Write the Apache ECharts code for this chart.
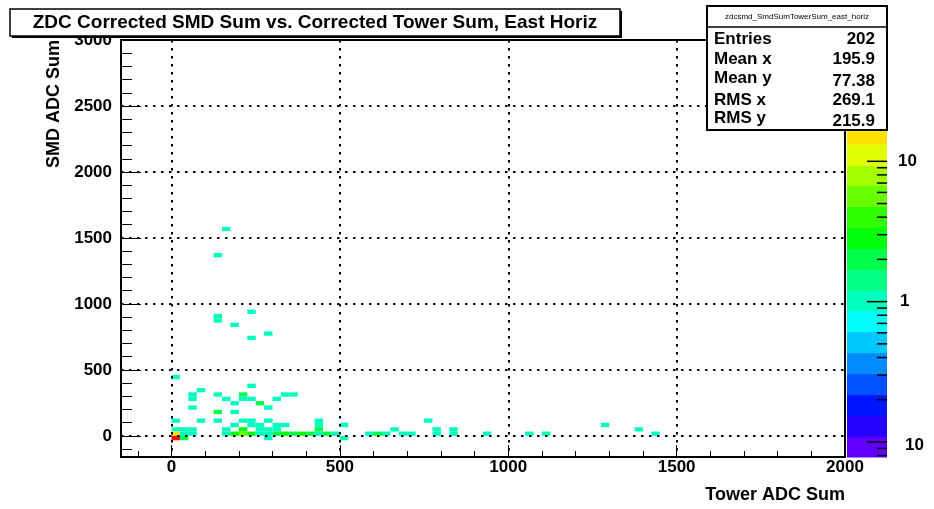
<!DOCTYPE html>
<html><head><meta charset="utf-8">
<script src="https://cdn.jsdelivr.net/npm/echarts@6/dist/echarts.min.js"></script>
<style>html,body{margin:0;padding:0;background:#fff}#c{width:934px;height:509px}</style>
</head><body><div id="c"></div>
<script>
// ---- histogram bins (bin centres, counts) ----
const binX = [
  162.5,137.5,237.5,137.5,137.5,187.5,287.5,237.5,12.5,237.5,87.5,
  62.5,137.5,212.5,337.5,362.5,
  62.5,162.5,212.5,237.5,312.5,
  187.5,262.5,
  62.5,287.5,
  137.5,187.5,
  12.5,87.5,137.5,212.5,237.5,287.5,437.5,762.5,
  187.5,237.5,262.5,312.5,337.5,437.5,512.5,1287.5,
  12.5,37.5,62.5,162.5,212.5,262.5,287.5,312.5,437.5,662.5,787.5,837.5,1387.5,
  12.5,37.5,62.5,162.5,187.5,212.5,237.5,262.5,287.5,312.5,337.5,362.5,387.5,412.5,437.5,462.5,487.5,587.5,612.5,637.5,687.5,712.5,787.5,837.5,937.5,1062.5,1112.5,1437.5,
  12.5,37.5,287.5,512.5
];
const binY = [
  1567.5,1369.5,940.5,907.5,874.5,841.5,775.5,742.5,445.5,379.5,346.5,
  313.5,313.5,313.5,313.5,313.5,
  280.5,280.5,280.5,280.5,280.5,
  247.5,247.5,
  214.5,214.5,
  181.5,181.5,
  115.5,115.5,115.5,115.5,115.5,115.5,115.5,115.5,
  82.5,82.5,82.5,82.5,82.5,82.5,82.5,82.5,
  49.5,49.5,49.5,49.5,49.5,49.5,49.5,49.5,49.5,49.5,49.5,49.5,49.5,
  16.5,16.5,16.5,16.5,16.5,16.5,16.5,16.5,16.5,16.5,16.5,16.5,16.5,16.5,16.5,16.5,16.5,16.5,16.5,16.5,16.5,16.5,16.5,16.5,16.5,16.5,16.5,16.5,
  -16.5,-16.5,-16.5,-16.5
];
const binCount = [
  1,1,1,1,1,1,1,1,1,1,1,
  1,1,2,1,1,
  1,1,1,1,1,
  1,2,
  1,1,
  2,1,
  1,1,1,1,1,1,1,1,
  1,1,1,1,1,1,1,1,
  1,1,1,1,3,1,1,1,2,1,1,1,1,
  14,1,1,1,3,5,3,1,1,2,3,2,3,2,1,2,1,1,2,1,1,1,1,1,1,1,1,1,
  16,2,1,1
];

// ---- axes ----
const xTicks = [0, 500, 1000, 1500, 2000];
const yTicks = [0, 500, 1000, 1500, 2000, 2500, 3000];
const xMinorTicks = [-100,0,100,200,300,400,500,600,700,800,900,1000,1100,1200,1300,1400,1500,1600,1700,1800,1900,2000];
const yMinorTicks = [-100,0,100,200,300,400,500,600,700,800,900,1000,1100,1200,1300,1400,1500,1600,1700,1800,1900,2000,2100,2200,2300,2400,2500,2600,2700,2800,2900,3000];

// ---- colour palette (log10 band edges, bottom to top) ----
const zBandEdges = [-1.107,-0.961,-0.812,-0.663,-0.514,-0.364,-0.214,-0.064,0.082,0.229,0.379,0.529,0.679,0.829,0.971,1.121,1.216];
const zBandColors = ['#6200FF','#2600FF','#0015FF','#0051FF','#008CFF','#00C8FF','#00FFFB','#00FFBF','#00FF84','#00FF48','#00FF0D','#2FFF00','#6AFF00','#A6FF00','#E1FF00','#FFE100'];
const overflowColor = '#FF0000';
const zTickMajor = [0.1, 1, 10];
const zTickMajorLabels = ['10', '1', '10'];
const zTickMinor = [0.08,0.09,0.2,0.3,0.4,0.5,0.6,0.7,0.8,0.9,2,3,4,5,6,7,8,9];

// ---- texts ----
const titleText = 'ZDC Corrected SMD Sum vs. Corrected Tower Sum, East Horiz';
const xTitle = 'Tower ADC Sum';
const yTitle = 'SMD ADC Sum';
const statsName = 'zdcsmd_SmdSumTowerSum_east_horiz';
const statsLabels = ['Entries', 'Mean x', 'Mean y', 'RMS x', 'RMS y'];
const statsValues = ['202', '195.9', '77.38', '269.1', '215.9'];

// ---- layout / style constants ----
const FONT = '"Liberation Sans", Arial, Helvetica, sans-serif';
const X_BIN_W = 25, Y_BIN_H = 33;
const zMax = Math.max(...binCount);
const statsLabelY = [39, 59, 78, 100, 118];
const statsValueY = [39, 59, 81, 100, 121];
const zLabelDx = [18, 13, 11];
const zLabelDy = [3, 0, 0];

function binColor(c) {
  if (c >= zMax) return overflowColor;
  const l = Math.log10(c);
  for (let i = 0; i < zBandColors.length; i++) if (l < zBandEdges[i + 1]) return zBandColors[i];
  return zBandColors[zBandColors.length - 1];
}

const chart = echarts.init(document.getElementById('c'), null, {renderer: 'canvas'});
const dotted = {color: '#000', type: [2.5, 5.5], width: 2};
const labelFont = {color: '#000', fontFamily: FONT, fontWeight: 'bold', fontSize: 17, formatter: v => String(v)};

const option = {
  animation: false,
  backgroundColor: '#fff',
  grid: [
    {left: 121, right: 89, top: 40, bottom: 52, show: true, borderColor: '#000', borderWidth: 2, backgroundColor: 'transparent'},
    {left: 847, width: 40, top: 131, bottom: 52, show: false}
  ],
  xAxis: [
    {gridIndex: 0, type: 'value', min: -150, max: 2000, position: 'bottom', z: 5,
     axisLine: {show: false, onZero: false},
     axisTick: {show: true, inside: true, length: 12, customValues: xTicks, lineStyle: {color: '#000', width: 1}},
     axisLabel: Object.assign({customValues: xTicks, margin: 2}, labelFont),
     splitLine: {show: true, lineStyle: dotted}},
    {gridIndex: 0, type: 'value', min: -150, max: 2000, position: 'bottom', z: 5,
     axisLine: {show: false, onZero: false}, axisLabel: {show: false}, splitLine: {show: false},
     axisTick: {show: true, inside: true, length: 6, customValues: xMinorTicks, lineStyle: {color: '#000', width: 1}}},
    {gridIndex: 1, type: 'value', min: 0, max: 1, show: false}
  ],
  yAxis: [
    {gridIndex: 0, type: 'value', min: -160, max: 3000, position: 'left', z: 5,
     axisLine: {show: false, onZero: false},
     axisTick: {show: true, inside: true, length: 20, customValues: yTicks, lineStyle: {color: '#000', width: 1}},
     axisLabel: Object.assign({customValues: yTicks, margin: 9}, labelFont),
     splitLine: {show: true, lineStyle: dotted}},
    {gridIndex: 0, type: 'value', min: -160, max: 3000, position: 'left', z: 5,
     axisLine: {show: false, onZero: false}, axisLabel: {show: false}, splitLine: {show: false},
     axisTick: {show: true, inside: true, length: 11, customValues: yMinorTicks, lineStyle: {color: '#000', width: 1}}},
    {gridIndex: 1, type: 'log', logBase: 10, min: Math.pow(10, zBandEdges[0]), max: Math.pow(10, zBandEdges[zBandEdges.length - 1]), show: false}
  ],
  series: [
    {type: 'custom', name: 'hist', xAxisIndex: 0, yAxisIndex: 0, z: 1, clip: true,
     data: binX.map((x, i) => [x, binY[i], binCount[i]]),
     renderItem: function (params, api) {
       const x = api.value(0), y = api.value(1), c = api.value(2);
       const p0 = api.coord([x - X_BIN_W / 2, y + Y_BIN_H / 2]);
       const p1 = api.coord([x + X_BIN_W / 2, y - Y_BIN_H / 2]);
       return {type: 'rect', shape: {x: p0[0], y: p0[1], width: p1[0] - p0[0], height: p1[1] - p0[1]},
               style: {fill: binColor(c)}};
     }},
    {type: 'custom', name: 'palette', xAxisIndex: 2, yAxisIndex: 2, z: 1,
     data: zBandColors.map((c, i) => [i]),
     renderItem: function (params, api) {
       const i = api.value(0);
       const p0 = api.coord([0, Math.pow(10, zBandEdges[i + 1])]);
       const p1 = api.coord([1, Math.pow(10, zBandEdges[i])]);
       return {type: 'rect', shape: {x: p0[0], y: p0[1], width: p1[0] - p0[0], height: p1[1] - p0[1] + 0.5},
               style: {fill: zBandColors[i]}};
     }},
    {type: 'custom', name: 'paletteTicks', xAxisIndex: 2, yAxisIndex: 2, z: 3,
     data: zTickMajor.map((v, i) => [v, 1, i]).concat(zTickMinor.map(v => [v, 0, -1])),
     renderItem: function (params, api) {
       const v = api.value(0), major = api.value(1) === 1, idx = api.value(2);
       const p = api.coord([1, v]);
       const len = major ? 20 : 10;
       const children = [{type: 'line', shape: {x1: p[0] - len, y1: p[1], x2: p[0], y2: p[1]},
                          style: {stroke: '#000', lineWidth: 1.5}}];
       if (major) {
         children.push({type: 'text', x: p[0] + zLabelDx[idx], y: p[1] + zLabelDy[idx],
           style: {text: zTickMajorLabels[idx], fill: '#000', font: 'bold 17px ' + FONT,
                   textAlign: 'left', textVerticalAlign: 'middle'}});
       }
       return {type: 'group', children: children};
     }}
  ],
  graphic: [
    // title box
    {type: 'rect', z: 20, shape: {x: 12, y: 11, width: 610, height: 27}, style: {fill: '#000'}},
    {type: 'rect', z: 21, shape: {x: 10, y: 9, width: 610, height: 27}, style: {fill: '#fff', stroke: '#000', lineWidth: 1.5}},
    {type: 'text', z: 22, x: 315, y: 23, style: {text: titleText, fill: '#000', font: 'bold 19px ' + FONT, textAlign: 'center', textVerticalAlign: 'middle'}},
    // stats box
    {type: 'rect', z: 20, shape: {x: 707, y: 6, width: 180, height: 124}, style: {fill: '#fff', stroke: '#000', lineWidth: 2}},
    {type: 'line', z: 21, shape: {x1: 707, y1: 27, x2: 887, y2: 27}, style: {stroke: '#000', lineWidth: 1.5}},
    {type: 'text', z: 22, x: 797, y: 16.5, style: {text: statsName, fill: '#000', font: '8px ' + FONT, textAlign: 'center', textVerticalAlign: 'middle'}}
  ].concat(statsLabels.map((t, i) => ({type: 'text', z: 22, x: 714, y: statsLabelY[i],
      style: {text: t, fill: '#000', font: 'bold 17px ' + FONT, textAlign: 'left', textVerticalAlign: 'middle'}})))
   .concat(statsValues.map((t, i) => ({type: 'text', z: 22, x: 875, y: statsValueY[i],
      style: {text: t, fill: '#000', font: 'bold 17px ' + FONT, textAlign: 'right', textVerticalAlign: 'middle'}})))
   .concat([
    {type: 'text', z: 22, x: 845, y: 495, style: {text: xTitle, fill: '#000', font: 'bold 18px ' + FONT, textAlign: 'right', textVerticalAlign: 'middle'}},
    {type: 'text', z: 22, x: 54, y: 40, rotation: Math.PI / 2, style: {text: yTitle, fill: '#000', font: 'bold 18px ' + FONT, textAlign: 'right', textVerticalAlign: 'middle'}}
  ])
};
chart.setOption(option);
</script>
</body></html>
